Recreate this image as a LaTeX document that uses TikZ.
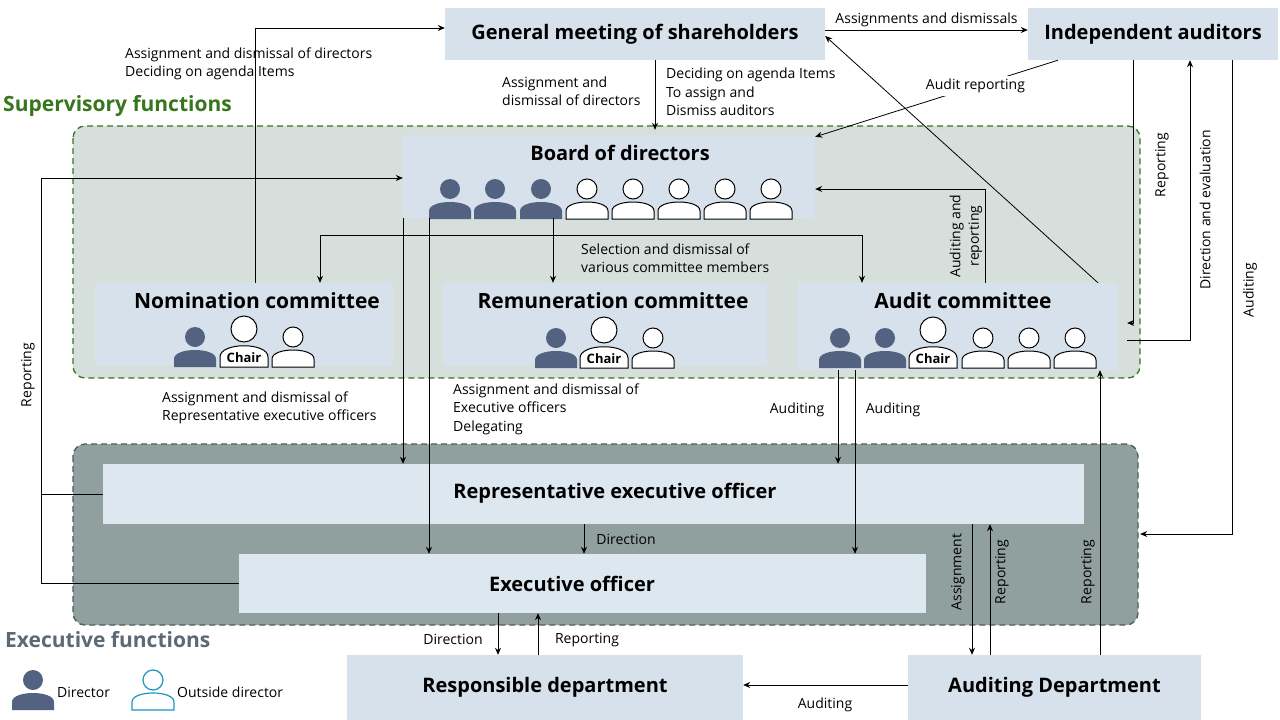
\documentclass[tikz,border=0pt]{standalone}
\usepackage{fontspec}
\setmainfont{Open Sans}
\usetikzlibrary{arrows.meta}
\definecolor{boxc}{RGB}{214,225,235}
\definecolor{boxl}{RGB}{221,231,240}
\definecolor{supf}{RGB}{214,223,219}
\definecolor{supd}{RGB}{56,118,29}
\definecolor{exef}{RGB}{143,160,158}
\definecolor{exed}{RGB}{80,90,90}
\definecolor{dkp}{RGB}{84,98,130}
\definecolor{exet}{RGB}{95,105,115}
\definecolor{outb}{RGB}{30,150,190}
\tikzset{
 box/.style={fill=boxc,inner sep=0pt,font=\fontsize{20}{24}\selectfont\bfseries},
 boxl/.style={fill=boxl,inner sep=0pt,font=\fontsize{20}{24}\selectfont\bfseries},
 ttl/.style={inner sep=0pt,font=\fontsize{21}{25}\selectfont\bfseries},
 lbl/.style={inner sep=0pt,align=left,font=\fontsize{14}{18.5}\selectfont},
 arr/.style={-{Stealth[length=7pt,width=6pt]},line width=0.8pt},
 ln/.style={line width=0.8pt},
 dperson/.pic={\fill[dkp] (-21,0) -- (-21,-8) .. controls (-21,-20) and (21,-20) .. (21,-8) -- (21,0) -- cycle;
   \fill[dkp] (0,-30) circle (10);},
 wperson/.pic={\filldraw[fill=white,draw=black,line width=1pt] (-21,0) -- (-21,-8) .. controls (-21,-20) and (21,-20) .. (21,-8) -- (21,0) -- cycle;
   \filldraw[fill=white,draw=black,line width=1pt] (0,-30) circle (10);},
 cperson/.pic={\filldraw[fill=white,draw=black,line width=1pt] (-24,0) -- (-24,-10) .. controls (-24,-25) and (24,-25) .. (24,-10) -- (24,0) -- cycle;
   \filldraw[fill=white,draw=black,line width=1pt] (0,-38) circle (13);
   \node[font=\fontsize{13}{13}\selectfont\bfseries,inner sep=0pt] at (0,-9) {Chair};},
 bperson/.pic={\draw[outb,line width=1.2pt] (-21,0) -- (-21,-8) .. controls (-21,-20) and (21,-20) .. (21,-8) -- (21,0) -- cycle;
   \draw[outb,line width=1.2pt] (0,-30) circle (10);},
}
\begin{document}
\begin{tikzpicture}[x=1pt,y=-1pt]
\useasboundingbox[fill=white] (0,0) rectangle (1280,720);
% frames
\draw[fill=supf,draw=supd,dashed,dash pattern=on 6pt off 4pt,line width=1.3pt,rounded corners=12pt] (73,126) rectangle (1140,378);
\draw[fill=exef,draw=exed,dashed,dash pattern=on 6pt off 4pt,line width=1.3pt,rounded corners=12pt] (73,444) rectangle (1138,625);
\node[ttl,anchor=west,text=supd] (supt) at (3,106) {Supervisory functions};
\node[ttl,anchor=west,text=exet] (exet) at (5,640) {Executive functions};
% boxes
\node[box,minimum width=380,minimum height=52] (gm) at (635,34) {General meeting of shareholders};
\node[box,minimum width=250,minimum height=52] (ia) at (1153,34) {Independent auditors};
\node[box,minimum width=412,minimum height=83] (board) at (609,176.5) {};
\node[box,minimum width=298,minimum height=83] (nom) at (244,324.5) {};
\node[box,minimum width=324,minimum height=83] (rem) at (605,324.5) {};
\node[box,minimum width=320,minimum height=87] (aud) at (958,326.5) {};
\node[boxl,minimum width=981,minimum height=60] (rep) at (593.5,494) {};
\node[ttl,font=\fontsize{20}{24}\selectfont\bfseries] (rept) at (615,493) {Representative executive officer};
\node[boxl,minimum width=687,minimum height=59] (exo) at (582.5,583.5) {};
\node[ttl,font=\fontsize{20}{24}\selectfont\bfseries] (exot) at (572,584) {Executive officer};
\node[box,minimum width=396,minimum height=65] (resp) at (545,687.5) {Responsible department};
\node[box,minimum width=293,minimum height=65] (audd) at (1054.5,687.5) {Auditing Department};
\node[ttl,font=\fontsize{20}{24}\selectfont\bfseries] (bt) at (620,153) {Board of directors};
\node[ttl] (nt) at (257,301) {Nomination committee};
\node[ttl] (rt) at (613,301) {Remuneration committee};
\node[ttl] (at) at (963,301) {Audit committee};
% persons
\foreach \x in {450,495,541} \pic at (\x,219) {dperson};
\foreach \x in {587,633,679,725,771} \pic at (\x,219) {wperson};
\pic at (195,367) {dperson}; \pic at (244,367) {cperson}; \pic at (293,367) {wperson};
\pic at (556,368) {dperson}; \pic at (604,368) {cperson}; \pic at (653,368) {wperson};
\pic at (840,368) {dperson}; \pic at (885,368) {dperson}; \pic at (933,368) {cperson};
\foreach \x in {983,1029,1075} \pic at (\x,368) {wperson};
% legend
\pic at (33,710) {dperson};
\node[lbl,anchor=west] (ld) at (57,692) {Director};
\pic at (153,710) {bperson};
\node[lbl,anchor=west] (lo) at (177,692) {Outside director};
% connectors
\draw[arr] ([xshift=11]nom.north) |- ([yshift=6]gm.west);
\node[lbl,anchor=west] (l1) at (125,64) {Assignment and dismissal of directors\\Deciding on agenda Items};
\draw[arr] ([xshift=20]gm.south) -- ([xshift=46,yshift=5]board.north);
\node[lbl,anchor=west] (l2) at (502,91) {Assignment and\\dismissal of directors};
\node[lbl,anchor=west] (l3) at (666,92) {Deciding on agenda Items\\To assign and\\Dismiss auditors};
\draw[arr] ([yshift=4]gm.east) -- node[lbl,above=3pt] (l4) {Assignments and dismissals} ([yshift=4]ia.west);
\draw[arr] ([xshift=-95]ia.south) -- node[lbl,fill=white,inner sep=3pt,pos=0.34] (l5) {Audit reporting} ([yshift=-2]board.north east);
\draw[arr] ([xshift=140]aud.north) -- ([yshift=-2]gm.east);
\draw[arr] (exo.west) -- ++(-197,0) |- ([yshift=-1.5]board.west);
\draw[ln] (rep.west) -- ++(-61,0);
\node[lbl,rotate=90] (l6) at (28,375) {Reporting};
\draw[ln] ([xshift=-56]board.south) -- ++(0,17) coordinate (br);
\draw[arr] (br) -| ([xshift=76]nom.north);
\draw[arr] (br) -| ([xshift=-96]aud.north);
\draw[arr] (br) -- ([xshift=-52]rem.north);
\node[lbl,anchor=west] (l7) at (581,258) {Selection and dismissal of\\various committee members};
\draw[arr] ([xshift=-206]board.south) -- ([xshift=-190.5]rep.north);
\draw[arr] ([xshift=-180]board.south) -- ([xshift=-153.5]exo.north);
\node[lbl,anchor=west] (l8) at (162,408) {Assignment and dismissal of\\Representative executive officers};
\node[lbl,anchor=west] (l9) at (453,409) {Assignment and dismissal of\\Executive officers\\Delegating};
\draw[arr] ([xshift=27]aud.north) |- ([yshift=-12.5]board.east);
\node[lbl,rotate=90,align=center] (l10) at (966,236) {Auditing and\\reporting};
\draw[arr] ([xshift=-120]aud.south) -- ([xshift=244.5]rep.north);
\draw[arr] ([xshift=-103]aud.south) -- ([xshift=272.5]exo.north);
\node[lbl] (l11) at (797,410) {Auditing};
\node[lbl] (l12) at (893,410) {Auditing};
\draw[arr] ([xshift=-9.5]rep.south) -- ([xshift=1.5]exo.north);
\node[lbl] (l13) at (626,539) {Direction};
\draw[arr] ([xshift=-20]ia.south) |- ([xshift=9,yshift=3.5]aud.east);
\draw[arr] ([xshift=9,yshift=-13.5]aud.east) -| ([xshift=37]ia.south);
\node[lbl,rotate=90] (l14) at (1162,165) {Reporting};
\node[lbl,rotate=90] (l15) at (1205,210) {Direction and evaluation};
\draw[arr] ([xshift=79]ia.south) |- ([xshift=56,yshift=-40]rep.east);
\node[lbl,rotate=90] (l16) at (1250,290) {Auditing};
\draw[arr] ([xshift=378.5]rep.south) -- ([xshift=-82.5]audd.north);
\draw[arr] ([xshift=-64.5]audd.north) -- ([xshift=396.5]rep.south);
\node[lbl,rotate=90] (l17) at (958,572) {Assignment};
\node[lbl,rotate=90] (l18) at (1002,572) {Reporting};
\draw[arr] ([xshift=45.5]audd.north) -- ([xshift=142]aud.south);
\node[lbl,rotate=90] (l19) at (1088,572) {Reporting};
\draw[arr] ([xshift=-84.5]exo.south) -- ([xshift=-47]resp.north);
\draw[arr] ([xshift=-7]resp.north) -- ([xshift=-44.5]exo.south);
\node[lbl] (l20) at (453,639) {Direction};
\node[lbl] (l21) at (587,640) {Reporting};
\draw[arr] ([yshift=2.5]audd.west) -- ([yshift=2.5]resp.east);
\node[lbl] (l22) at (825,705) {Auditing};
\end{tikzpicture}
\end{document}
